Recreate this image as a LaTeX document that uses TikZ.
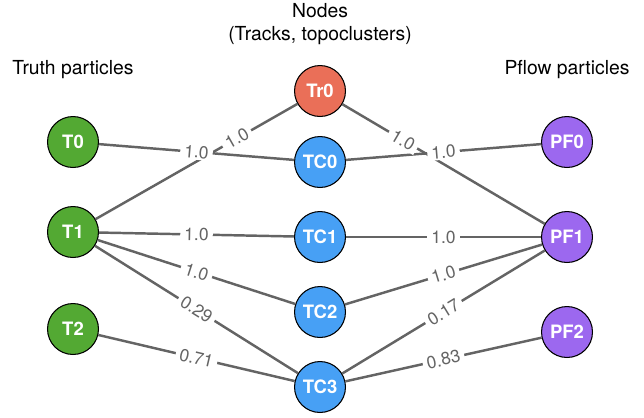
\documentclass[tikz,border=0pt]{standalone}
\usepackage{fontspec}
\setmainfont{TeX Gyre Heros}
\usepackage{tikz}

\definecolor{truthgreen}{RGB}{83,169,51}
\definecolor{trackred}{RGB}{234,111,88}
\definecolor{clusterblue}{RGB}{71,160,245}
\definecolor{pflowpurple}{RGB}{156,104,239}
\definecolor{edgegray}{RGB}{100,100,100}

\tikzset{
  particle/.style={circle, draw=black, line width=0.6pt, minimum size=29pt, inner sep=0pt,
    text=white, font=\fontsize{10.5}{12}\selectfont\bfseries},
  edge/.style={edgegray, line width=1.4pt},
  weight/.style={sloped, fill=white, inner xsep=2.3pt, inner ysep=0.8pt, text=edgegray,
    font=\fontsize{10}{12}\selectfont},
  title/.style={font=\fontsize{11}{13.5}\selectfont, align=center}
}

\begin{document}
\begin{tikzpicture}[x=0.02cm, y=-0.02cm]
\useasboundingbox (0,0) rectangle (644,417);

% column titles
\node[title] (nodestitle) at (320,24) {Nodes\\(Tracks, topoclusters)};
\node[title] (truthtitle) at (73,70) {Truth particles};
\node[title] (pflowtitle) at (567,70) {Pflow particles};

% truth particles
\node[particle, fill=truthgreen] (T0) at (73,142) {T0};
\node[particle, fill=truthgreen] (T1) at (73,232) {T1};
\node[particle, fill=truthgreen] (T2) at (73,329) {T2};

% tracks and topoclusters
\node[particle, fill=trackred] (Tr0) at (320,91) {Tr0};
\node[particle, fill=clusterblue] (TC0) at (320,162) {TC0};
\node[particle, fill=clusterblue] (TC1) at (320,237) {TC1};
\node[particle, fill=clusterblue] (TC2) at (320,312) {TC2};
\node[particle, fill=clusterblue] (TC3) at (320,387) {TC3};

% pflow particles
\node[particle, fill=pflowpurple] (PF0) at (567,142) {PF0};
\node[particle, fill=pflowpurple] (PF1) at (567,237) {PF1};
\node[particle, fill=pflowpurple] (PF2) at (567,332) {PF2};

% edges first, then the weights on top
\foreach \a/\b in {Tr0/T1, Tr0/PF1, T0/TC0, TC0/PF0, T1/TC1, TC1/PF1,
                   T1/TC2, TC2/PF1, T1/TC3, T2/TC3, TC3/PF1, TC3/PF2}
  \draw[edge] (\a) -- (\b);

\foreach \a/\b/\p/\w in {Tr0/T1/0.3/1.0, Tr0/PF1/0.3/1.0, T0/TC0/0.5/1.0, TC0/PF0/0.5/1.0,
                         T1/TC1/0.5/1.0, TC1/PF1/0.5/1.0, T1/TC2/0.5/1.0, TC2/PF1/0.5/1.0,
                         T1/TC3/0.5/0.29, T2/TC3/0.5/0.71, TC3/PF1/0.5/0.17, TC3/PF2/0.5/0.83}
  \path (\a) -- node[weight, pos=\p] {\w} (\b);
\end{tikzpicture}
\end{document}
